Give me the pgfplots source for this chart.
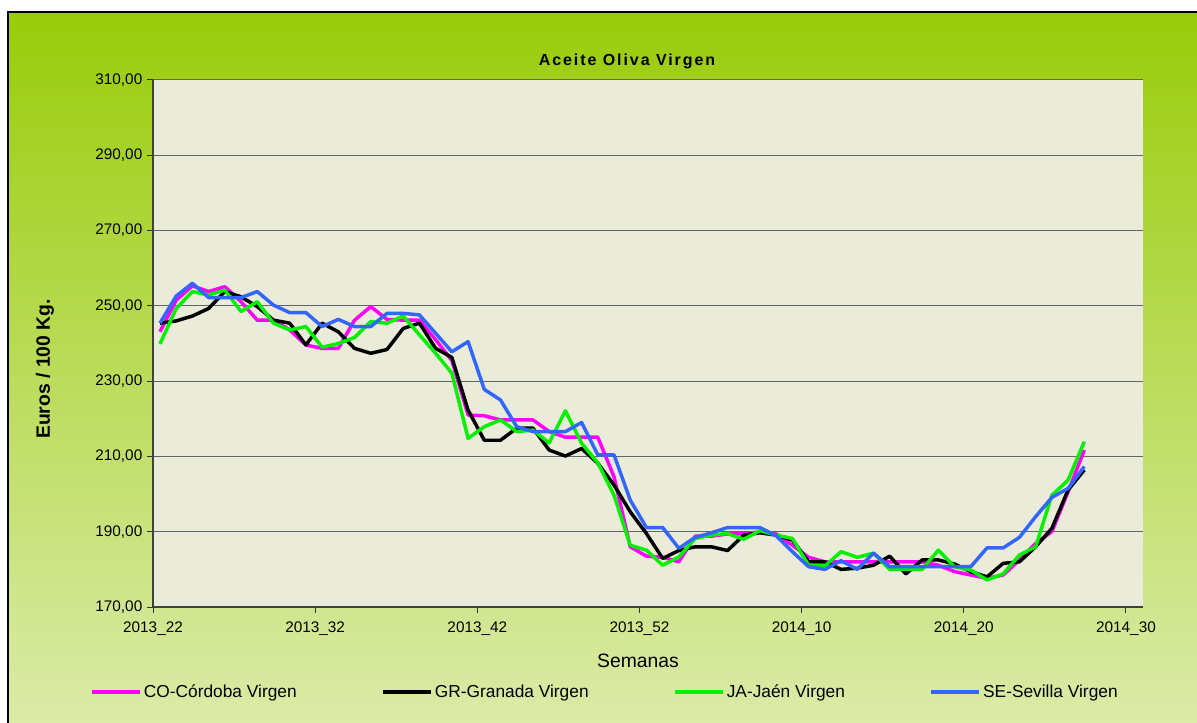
\documentclass[border=0pt]{standalone}
\usepackage{fontspec}
\setmainfont{Liberation Sans}
\newfontfamily\titlefont[LetterSpace=12]{Liberation Sans}
\usepackage{pgfplots}
\pgfplotsset{compat=1.18}

\definecolor{bgtop}{RGB}{153,204,10}
\definecolor{bgbot}{RGB}{220,235,170}
\definecolor{plotbg}{RGB}{234,235,216}
\definecolor{gridgray}{RGB}{100,100,100}
\definecolor{coC}{RGB}{255,0,255}
\definecolor{jaC}{RGB}{0,240,0}
\definecolor{seC}{RGB}{51,102,255}

% weekly prices, x = week index from 2013_22
\pgfplotstableread{
x     co    gr    ja    se
0.43  243.1 245.4 239.9 245.4
1.43  251.5 246.0 249.3 252.6
2.43  255.3 247.3 253.8 256.0
3.43  253.8 249.3 252.9 252.2
4.43  255.1 253.8 254.2 252.2
5.43  251.1 252.4 248.5 252.2
6.43  246.2 249.8 251.1 253.8
7.43  246.2 246.2 245.4 250.2
8.43  243.6 245.4 243.6 248.2
9.43  239.6 239.6 244.5 248.2
10.43 238.7 245.4 239.0 244.5
11.43 238.7 243.1 240.0 246.4
12.43 246.2 238.7 241.6 244.5
13.43 249.8 237.4 245.8 244.5
14.43 246.4 238.4 245.4 248.0
15.43 246.2 244.0 247.3 248.0
16.43 246.2 245.4 242.3 247.6
17.43 241.0 238.7 237.4 242.7
18.43 235.5 236.3 232.1 237.8
19.43 221.0 222.3 214.8 240.5
20.43 220.8 214.3 217.9 227.8
21.43 219.7 214.3 219.7 225.0
22.43 219.7 217.5 216.6 217.9
23.43 219.7 217.5 217.0 216.6
24.43 216.6 211.7 213.6 216.6
25.43 215.1 210.1 222.1 216.6
26.43 215.1 212.1 213.5 219.0
27.43 215.1 208.2 208.3 210.4
28.43 204.6 202.4 199.7 210.4
29.43 186.0 195.3 186.4 198.4
30.43 183.5 189.5 185.1 191.1
31.43 183.2 182.9 181.1 191.1
32.43 182.0 185.0 183.3 185.6
33.43 188.8 186.0 188.2 188.5
34.43 188.8 186.0 189.1 189.7
35.43 189.4 185.0 189.5 191.1
36.43 189.4 189.1 188.0 191.1
37.43 190.0 189.7 190.3 191.1
38.43 189.4 189.1 189.1 188.9
39.43 186.4 187.8 188.2 184.7
40.43 183.2 182.0 181.1 180.7
41.43 182.0 182.0 180.9 180.0
42.43 182.0 180.0 184.7 182.3
43.43 182.0 180.3 183.2 180.0
44.43 182.0 181.1 184.3 184.3
45.43 182.0 183.5 180.0 180.7
46.43 182.0 178.8 180.0 180.7
47.43 182.0 182.5 180.0 180.7
48.43 181.1 182.5 185.1 180.7
49.43 179.4 181.4 180.7 180.7
50.43 178.5 179.4 179.8 180.7
51.43 177.6 178.0 177.2 185.7
52.43 178.5 181.6 178.8 185.7
53.43 182.5 182.0 183.8 188.5
54.43 186.9 186.0 186.0 194.0
55.43 190.0 190.9 199.7 199.1
56.43 200.6 201.1 203.7 201.5
57.43 211.7 206.4 213.9 207.3
}\prices

\begin{document}
\begin{tikzpicture}[x=0.75pt,y=0.75pt]
\useasboundingbox (0,0) rectangle (1197,722);
\begin{scope}
  \clip (0,0) rectangle (1197,722);
  \fill[white] (0,0) rectangle (1197,722);
  \shade[top color=bgtop,bottom color=bgbot] (8,-10) rectangle (1210,710);
  \draw[black,line width=1pt] (8,-10) rectangle (1210,710);
\end{scope}
\coordinate (sw) at (153,115);

\begin{axis}[
    at={(sw)}, anchor=south west,
    width=742.5pt, height=395.25pt, scale only axis,
    xmin=0, xmax=61.05, ymin=170, ymax=310,
    xtick={0,10,20,30,40,50,60},
    xticklabels={2013\_22,2013\_32,2013\_42,2013\_52,2014\_10,2014\_20,2014\_30},
    ytick={170,190,210,230,250,270,290,310},
    axis x line*=bottom, axis y line*=left,
    axis line style={black!75,line width=1pt},
    tick align=outside, major tick length=4.5pt,
    tick style={black!80,line width=0.75pt},
    ymajorgrids, grid style={gridgray,line width=0.75pt},
    axis background/.style={fill=plotbg},
    ticklabel style={font=\fontsize{11.5}{13}\selectfont},
    yticklabel style={/pgf/number format/.cd,fixed,fixed zerofill,precision=2,use comma,1000 sep={},assume math mode=true},
    xticklabel style={yshift=-3pt},
    legend columns=4,
    legend style={at={(0.4566,-0.1613)},anchor=center,draw=none,fill=none,
        font=\fontsize{13}{15}\selectfont,
        /tikz/every even column/.append style={column sep=62pt},
        nodes={inner sep=1.5pt}},
    legend image code/.code={\draw[#1,line width=2.6pt] (0pt,0pt) -- (36pt,0pt);},
    every axis plot/.append style={line width=2.6pt,line join=round},
]
\addplot[coC] table[x=x,y=co] {\prices};
\addlegendentry{CO-Córdoba Virgen}
\addplot[black] table[x=x,y=gr] {\prices};
\addlegendentry{GR-Granada Virgen}
\addplot[jaC] table[x=x,y=ja] {\prices};
\addlegendentry{JA-Jaén Virgen}
\addplot[seC] table[x=x,y=se] {\prices};
\addlegendentry{SE-Sevilla Virgen}
\end{axis}

\node[font=\titlefont\bfseries\fontsize{12}{14}\selectfont] at (627,661) {Aceite Oliva Virgen};
\node[font=\fontsize{14.5}{16}\selectfont] at (638,61) {Semanas};
\node[font=\bfseries\fontsize{14.5}{16}\selectfont,rotate=90] at (45,353) {Euros / 100 Kg.};
\end{tikzpicture}
\end{document}
